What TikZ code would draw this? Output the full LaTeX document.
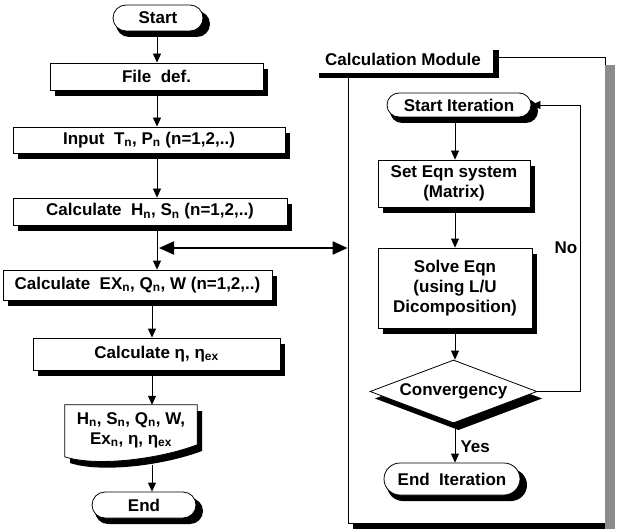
\documentclass[tikz,border=0pt]{standalone}
\usepackage{fontspec}
\setmainfont{Liberation Sans}
\usetikzlibrary{arrows.meta,positioning,calc,shapes.geometric,shapes.misc}
\tikzset{
  blk/.style={rectangle, draw=black, line width=0.8pt, fill=white, align=center,
    inner sep=2pt, font=\fontsize{17}{20}\selectfont\bfseries},
  term/.style={blk, rounded rectangle},
  decide/.style={blk, diamond, inner sep=0pt},
  lbl/.style={font=\fontsize{17}{20}\selectfont\bfseries},
  flow/.style={-{Triangle[length=9pt, width=8pt]}, line width=0.8pt},
  link/.style={{Triangle[length=15pt, width=13pt]}-{Triangle[length=15pt, width=13pt]}, line width=2pt},
  shd/.style={black},
}
\newcommand{\sbn}[1]{\textsubscript{#1}}

\begin{document}
\begin{tikzpicture}[x=1pt, y=-1pt,
  tag/.style={lbl, fill=white, minimum width=180pt, minimum height=28pt},
  frame/.style={draw=black, line width=0.8pt, minimum width=257pt, minimum height=466pt}]
  \useasboundingbox (0,0) rectangle (617,529);
  \coordinate (sp) at (157,0);
  \coordinate (sq) at (152,0);
  \coordinate (sr) at (455,0);
  \coordinate (lp) at (580,0);
  % main program (each shadow first, then its box)
  \fill[shd, rounded corners=13pt] (116,11) rectangle (210,37);
  \node[term, minimum width=94pt, minimum height=26pt] (start) at (158,18) {Start};
  \fill[shd] (55,69) rectangle (268,96);
  \node[blk, minimum width=213pt, minimum height=27pt] (filedef) at (156.5,76.5) {File\ \ def.};
  \fill[shd] (18,133) rectangle (290,159);
  \node[blk, minimum width=272pt, minimum height=26pt] (input) at (149,140) {Input\ \ T\sbn{n}, P\sbn{n} (n=1,2,..)};
  \fill[shd] (18,204) rectangle (292,231);
  \node[blk, minimum width=274pt, minimum height=27pt] (calch) at (150,211.5) {Calculate\ \ H\sbn{n}, S\sbn{n} (n=1,2,..)};
  \fill[shd] (8,276) rectangle (277,306);
  \node[blk, minimum width=269pt, minimum height=30pt] (calcex) at (137.5,285) {Calculate\ \ EX\sbn{n}, Q\sbn{n}, W (n=1,2,..)};
  \fill[shd] (38,344) rectangle (285,376);
  \node[blk, minimum width=247pt, minimum height=32pt] (calceta) at (156.5,354) {Calculate η, η\sbn{ex}};
  % output sheet with wavy bottom
  \fill[shd] (70,411) -- (202,411) -- (202,451) .. controls (162,466) and (100,473) .. (70,463) -- cycle;
  \node[lbl, minimum width=132pt, minimum height=50pt] (outp) at (131,430) {};
  \filldraw[fill=white, draw=black, line width=0.8pt] (outp.north west) -- (outp.north east) -- ([yshift=-40pt]outp.north east)
    .. controls +(-40,15) and +(30,10) .. ([yshift=-52pt]outp.north west) -- cycle;
  \node[lbl, align=center] (outtxt) at (outp) {H\sbn{n}, S\sbn{n}, Q\sbn{n}, W,\\Ex\sbn{n}, η, η\sbn{ex}};
  \fill[shd, rounded corners=13pt] (95,498) rectangle (203,524);
  \node[term, minimum width=108pt, minimum height=26pt] (endn) at (144,505) {End};
  \draw[flow] (start.south -| sp) -- (filedef.north -| sp);
  \draw[flow] (filedef.south -| sp) -- (input.north -| sp);
  \draw[flow] (input.south -| sp) -- (calch.north -| sp);
  \draw[flow] (calch.south -| sp) -- (calcex.north -| sp);
  \draw[flow] (calcex.south -| sq) -- (calceta.north -| sq);
  \draw[flow] (calceta.south -| sq) -- (outp.north -| sq);
  \draw[flow] ([yshift=-10pt]outp.south -| sq) -- (endn.north -| sq);
  % calculation module
  \node[frame] (module) at (476.5,290) {};
  \fill[black!45] ([yshift=-8pt]module.north east) rectangle ([xshift=10pt, yshift=-6pt]module.south east);
  \fill[black] ([xshift=5pt]module.south west) rectangle ([yshift=-6pt]module.south east);
  \fill[shd] (319,50) rectangle (499,78);
  \node[tag] (modlbl) at (403,59) {Calculation Module};
  \coordinate (jn) at (159,248);
  \draw[link] (jn) -- (jn -| module.west);
  \fill[shd, rounded corners=12pt] (390,99) rectangle (538,123);
  \node[term, minimum width=148pt, minimum height=24pt] (startit) at (459,105) {Start Iteration};
  \fill[shd] (383,166) rectangle (535,213);
  \node[blk, minimum width=152pt, minimum height=47pt] (seteqn) at (454,183.5) {Set Eqn system\\(Matrix)};
  \fill[shd] (383,254) rectangle (537,334);
  \node[blk, minimum width=154pt, minimum height=80pt] (solve) at (455,288) {Solve Eqn\\(using L/U\\Dicomposition)};
  \fill[shd] (458.5,367) -- (542,398.5) -- (458.5,430) -- (375,398.5) -- cycle;
  \node[decide, minimum width=167pt, minimum height=63pt, aspect=2.65] (conv) at (453.5,391.5) {Convergency};
  \fill[shd, rounded corners=16pt] (387,469) rectangle (527,501);
  \node[term, minimum width=140pt, minimum height=32pt] (enditer) at (452,479) {End\ \ Iteration};
  \draw[flow] (startit.south -| sr) -- (seteqn.north -| sr);
  \draw[flow] (seteqn.south -| sr) -- (solve.north -| sr);
  \draw[flow] (solve.south -| sr) -- (conv.north -| sr);
  \draw[flow] (conv.south -| sr) -- (enditer.north -| sr);
  \draw[flow] (conv.east) -- (conv.east -| lp) -- (startit.east -| lp) -- (startit.east);
  \node[lbl, anchor=west] (yes) at (457,447) {Yes};
  \node[lbl] (no) at (566,248) {No};
\end{tikzpicture}
\end{document}
